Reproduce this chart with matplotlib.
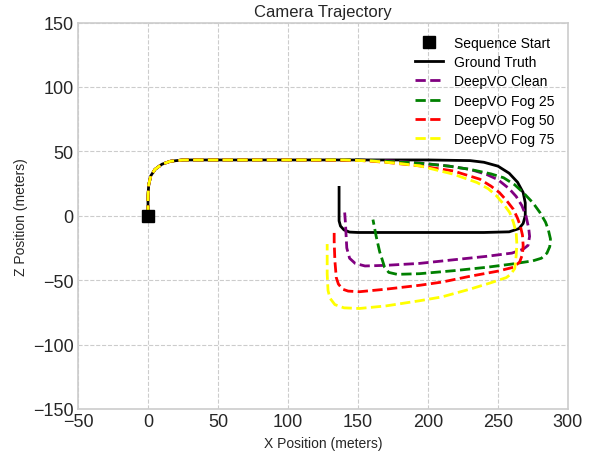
import matplotlib
matplotlib.use("Agg")
import matplotlib.pyplot as plt

plt.rcParams['font.family'] = ['Liberation Sans', 'DejaVu Sans']

# trajectories (x, z in meters)
gt_x = [0, 0, 0.5, 2, 5, 10, 16, 25, 50, 100, 150, 200, 230, 240, 250, 258, 264, 268,
        269.5, 269.5, 268, 265, 258, 240, 200, 150, 144, 140, 137.5, 136.5, 136.5, 136.5]
gt_z = [0, 15, 24, 31, 36, 40, 42.3, 43.3, 43.3, 43.3, 43.3, 43.3, 42.8, 41.5, 38.5, 33, 26, 18,
        10, 0, -6, -10, -12.5, -13, -13, -13, -12.7, -11, -8, -4, 5, 22]

clean_x = [0, 0, 0.5, 2, 5, 10, 16, 25, 50, 100, 150, 175, 194, 215, 230, 242, 250, 258, 263,
           267, 270, 272, 272.6, 271.5, 268, 260, 242, 220, 194, 170, 155, 148, 144, 142,
           141.5, 141, 140.5]
clean_z = [0, 15, 24, 31, 36, 40, 42.3, 43.3, 43.3, 43.3, 43.3, 42.5, 41, 38.5, 36, 32, 28, 21, 15,
           8, 0, -10, -16, -23, -26, -29, -31.5, -34, -37, -38.5, -39, -37, -33, -25,
           -15, -5, 2.5]

fog25_x = [0, 0, 0.5, 2, 5, 10, 16, 25, 50, 100, 150, 175, 194, 215, 230, 245, 254, 262, 268,
           275, 280, 284, 286, 287.5, 287, 285, 281, 275, 260, 242, 220, 194, 178, 172,
           169, 167, 165.5, 163, 160.7]
fog25_z = [0, 15, 24, 31, 36, 40, 42.3, 43.3, 43.3, 43.3, 43.3, 42, 40.8, 38.5, 36, 32.5, 29.5, 24, 18,
           10, 2.5, -5, -11, -18, -24, -29, -33, -35, -37.5, -40, -42.5, -45, -45.5, -44,
           -40, -33, -28, -16, -3]

fog50_x = [0, 0, 0.5, 2, 5, 10, 16, 25, 50, 100, 150, 170, 194, 218, 237, 245, 251, 256, 261,
           264, 266, 267.5, 268, 267.5, 265.5, 261, 250, 230, 210, 194, 170, 151, 143,
           139, 136, 134.5, 133.5, 133, 133]
fog50_z = [0, 15, 24, 31, 36, 40, 42.3, 43.3, 43.3, 43.3, 43, 41.5, 38.7, 34.8, 28.4, 23, 18, 12, 5,
           -2, -8, -15, -23, -30, -36, -40, -43, -47, -51.5, -54, -57, -59, -58.5,
           -57, -53, -48, -35, -20, -12]

fog75_x = [0, 0, 0.5, 2, 5, 10, 16, 25, 50, 100, 140, 160, 180, 194, 218, 235, 243, 249, 254,
           258.4, 261, 263, 263.5, 263, 262, 259, 256, 245, 230, 210, 194, 170, 151, 140,
           133.5, 130, 128.6, 128, 128, 128]
fog75_z = [0, 15, 24, 31, 36, 40, 42.3, 43.3, 43.3, 43.3, 43.3, 42.5, 40.5, 38.7, 32.3, 25.8, 21, 15.4, 9,
           2.5, -5, -13, -22, -31, -41, -45.5, -48, -52, -57, -63, -66, -70, -72, -71.5,
           -69, -64, -58, -45, -30, -22]

fig, ax = plt.subplots(figsize=(5.91, 4.52), dpi=100)
fig.subplots_adjust(left=0.132, right=0.961, top=0.948, bottom=0.093)

ax.plot([0], [0], 'ks', markersize=9, label='Sequence Start', zorder=5)
ax.plot(gt_x, gt_z, color='black', lw=2, label='Ground Truth')
ax.plot(clean_x, clean_z, '--', color='purple', lw=2, label='DeepVO Clean')
ax.plot(fog25_x, fog25_z, '--', color='green', lw=2, label='DeepVO Fog 25')
ax.plot(fog50_x, fog50_z, '--', color='red', lw=2, label='DeepVO Fog 50')
ax.plot(fog75_x, fog75_z, '--', color='yellow', lw=2, label='DeepVO Fog 75')

ax.set_xlim(-50, 300)
ax.set_ylim(-150, 150)
ax.set_title('Camera Trajectory', fontsize=12, color='#262626', pad=5)
ax.set_xlabel('X Position (meters)', fontsize=10, color='#262626')
ax.set_ylabel('Z Position (meters)', fontsize=10, color='#262626')
ax.tick_params(labelsize=13, colors='#262626', length=0, pad=3)
ax.grid(True, linestyle='--', color='#cccccc', lw=0.8)
for s in ax.spines.values():
    s.set_color('#cccccc')
    s.set_linewidth(1.2)

ax.legend(loc='upper right', frameon=False, fontsize=10, numpoints=1,
          labelspacing=0.38, borderaxespad=0.55)

fig.savefig('out.png', dpi=100)
